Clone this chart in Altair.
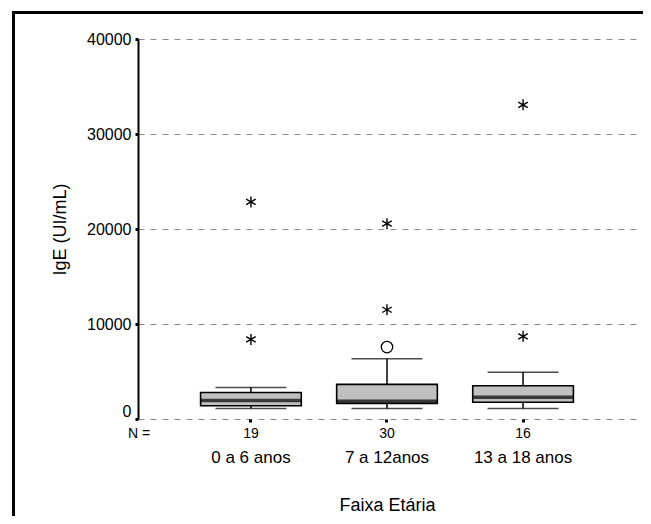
import altair as alt
import pandas as pd

# ---- data ----
groups = ["0 a 6 anos", "7 a 12anos", "13 a 18 anos"]
ns = [19, 30, 16]
whisker_low = [1100, 1100, 1100]
q1 = [1390, 1630, 1770]
median = [1950, 1880, 2300]
q3 = [2790, 3640, 3500]
whisker_high = [3320, 6340, 4930]

outlier_groups = ["7 a 12anos"]
outlier_values = [7570]

extreme_groups = ["0 a 6 anos", "0 a 6 anos", "7 a 12anos", "7 a 12anos",
                  "13 a 18 anos", "13 a 18 anos"]
extreme_values = [8380, 22850, 11500, 20560, 8700, 33070]

y_ticks = [0, 10000, 20000, 30000, 40000]

box_df = pd.DataFrame({"grupo": groups, "n": ns, "lo": whisker_low, "q1": q1,
                       "med": median, "q3": q3, "hi": whisker_high})
out_df = pd.DataFrame({"grupo": outlier_groups, "v": outlier_values})
ext_df = pd.DataFrame({"grupo": extreme_groups, "v": extreme_values})

FONT = "Liberation Sans"
W, H = 498, 380

xscale = alt.Scale(paddingInner=0.26, paddingOuter=0.46)
xaxis = alt.Axis(title="Faixa Etária", domain=False, ticks=True, tickSize=3,
                 tickWidth=3, tickColor="black", labelAngle=0, labelFontSize=17,
                 labelFont=FONT, labelColor="black", labelPadding=27,
                 titleFont=FONT, titleFontSize=18, titleFontWeight="normal",
                 titleColor="black", titleY=86, titleBaseline="middle")
yscale = alt.Scale(domain=[0, 40000], nice=False, zero=True)
yaxis = alt.Axis(title="IgE (UI/mL)", values=y_ticks, format="d",
                 domainColor="black", domainWidth=2, tickColor="black",
                 tickSize=3, tickWidth=3, labelFontSize=16, labelFont=FONT,
                 labelColor="black", labelPadding=4,
                 labelOffset={"condition": {"test": "datum.value === 0", "value": -8}, "value": 0},
                 grid=True, gridColor="#8c8c8c", gridDash=[6, 6], gridWidth=1,
                 titleFont=FONT, titleFontSize=18, titleFontWeight="normal",
                 titleColor="black", titleX=-78, titleBaseline="middle")


def X():
    return alt.X("grupo:N", sort=groups, scale=xscale, axis=xaxis)


def Y(field):
    return alt.Y(field, type="quantitative", scale=yscale, axis=yaxis)


one = alt.Data(values=[{"k": 1}])
frame_top = alt.Chart(one).mark_rule(color="black", strokeWidth=3).encode(
    x=alt.value(-126), x2=alt.value(505), y=alt.value(-26.5))
frame_left = alt.Chart(one).mark_rule(color="black", strokeWidth=3).encode(
    x=alt.value(-124.5), y=alt.value(-28), y2=alt.value(500))

base = alt.Chart(box_df)

whisk_lo = base.mark_rule(color="black", strokeWidth=1.5).encode(
    x=X(), y=Y("lo"), y2="q1")
whisk_hi = base.mark_rule(color="black", strokeWidth=1.5).encode(
    x=X(), y=Y("q3"), y2="hi")
cap_lo = base.mark_tick(color="black", size=71, thickness=1.5).encode(
    x=X(), y=Y("lo"))
cap_hi = base.mark_tick(color="black", size=71, thickness=1.5).encode(
    x=X(), y=Y("hi"))
box = base.mark_bar(color="#c0c0c0", stroke="black", strokeWidth=1.6).encode(
    x=X(), y=Y("q1"), y2="q3")
med = base.mark_tick(color="black", size=100, thickness=3.5).encode(
    x=X(), y=Y("med"))

circles = alt.Chart(out_df).mark_point(
    shape="circle", size=130, filled=False, color="black", strokeWidth=1.3,
    opacity=1).encode(x=X(), y=Y("v"))

STAR = "M0,-1L0,1M-0.866,-0.5L0.866,0.5M-0.866,0.5L0.866,-0.5"
stars = alt.Chart(ext_df).mark_point(
    shape=STAR, size=121, filled=False, color="black", strokeWidth=1.4,
    opacity=1).encode(x=X(), y=Y("v"))

counts = base.mark_text(font=FONT, fontSize=14, color="black",
                        baseline="middle").encode(
    x=X(), y=alt.value(H + 15), text="n:Q")

n_label = alt.Chart(alt.Data(values=[{"t": "N ="}])).mark_text(
    font=FONT, fontSize=14, color="black", baseline="middle", align="center").encode(
    x=alt.value(1), y=alt.value(H + 15), text="t:N")

chart = alt.layer(
    frame_top, frame_left, whisk_lo, whisk_hi, cap_lo, cap_hi, box, med,
    circles, stars, counts, n_label
).properties(
    width=W, height=H,
    autosize=alt.AutoSizeParams(type="none"),
    padding={"left": 130, "top": 31, "right": 7, "bottom": 97},
    background="white",
).configure_view(stroke=None)

chart.save("out.html", embed_options={"renderer": "svg", "actions": False})
